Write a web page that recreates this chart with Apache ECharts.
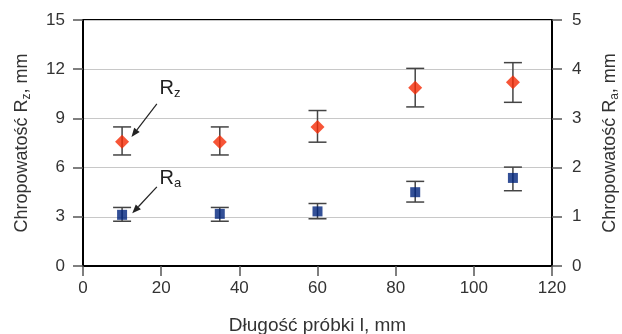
<!DOCTYPE html>
<html>
<head>
<meta charset="utf-8">
<script src="https://cdn.jsdelivr.net/npm/echarts@6/dist/echarts.min.js"></script>
<style>
  html, body { margin: 0; padding: 0; background: #fff; }
  #chart { width: 622px; height: 334px; }
</style>
</head>
<body>
<div id="chart"></div>
<script>
// długość próbki, mm
const lengths = [10, 35, 60, 85, 110];
// Rz (lewa oś)
const rzMean = [7.58, 7.56, 8.48, 10.87, 11.2];
const rzLow = [6.77, 6.77, 7.55, 9.7, 9.98];
const rzHigh = [8.48, 8.48, 9.48, 12.05, 12.4];
// Ra (prawa oś)
const raMean = [1.04, 1.06, 1.11, 1.5, 1.79];
const raLow = [0.91, 0.91, 0.96, 1.3, 1.53];
const raHigh = [1.19, 1.19, 1.27, 1.72, 2.01];

const FONT = "'Liberation Sans', Arial, sans-serif";
const TXT = "#333";

const el = document.getElementById("chart");
const chart = echarts.init(el, null, { renderer: "canvas" });

function errorBars(low, high) {
  return lengths.map((x, i) => [x, low[i], high[i]]);
}

function renderErr(params, api) {
  const x = api.value(0);
  const lo = api.coord([x, api.value(1)]);
  const hi = api.coord([x, api.value(2)]);
  const w = 9;
  const style = { stroke: "#444", lineWidth: 1.5 };
  return {
    type: "group",
    children: [
      { type: "line", shape: { x1: hi[0], y1: hi[1], x2: lo[0], y2: lo[1] }, style },
      { type: "line", shape: { x1: hi[0] - w, y1: hi[1], x2: hi[0] + w, y2: hi[1] }, style },
      { type: "line", shape: { x1: lo[0] - w, y1: lo[1], x2: lo[0] + w, y2: lo[1] }, style },
    ],
  };
}

const axisLine = { show: true, lineStyle: { color: "#000", width: 2 } };
const axisTick = { show: true, length: 10, lineStyle: { color: "#555", width: 1.5 } };
const label = { color: TXT, fontSize: 17, fontFamily: FONT };
const nameRich = {
  a: { fontSize: 18, fontFamily: FONT, color: TXT },
  s: { fontSize: 12, fontFamily: FONT, color: TXT, verticalAlign: "bottom", padding: [9, 0, 0, 0] },
};

chart.setOption({
  animation: false,
  grid: {
    left: 83, right: 70, top: 20, bottom: 68,
    outerBoundsMode: "none",
    show: true, borderColor: "#000", borderWidth: 2,
  },
  xAxis: {
    type: "value",
    min: 0,
    max: 120,
    interval: 20,
    axisLine,
    axisTick,
    axisLabel: { ...label, margin: 14 },
    splitLine: { show: false },
    name: "Długość próbki l, mm",
    nameLocation: "middle",
    nameGap: 50,
    nameTextStyle: { fontSize: 19, fontFamily: FONT, color: TXT },
  },
  yAxis: [
    {
      type: "value",
      min: 0,
      max: 15,
      interval: 3,
      axisLine,
      axisTick,
      axisLabel: { ...label, margin: 18 },
      splitLine: { show: true, lineStyle: { color: "#c8c8c8", width: 1.2 } },
      name: "{a|Chropowatość R}{s|z}{a|, mm}",
      nameLocation: "middle",
      nameRotate: 90,
      nameGap: 50,
      nameTextStyle: { rich: nameRich },
    },
    {
      type: "value",
      min: 0,
      max: 5,
      interval: 1,
      position: "right",
      axisLine,
      axisTick,
      axisLabel: { ...label, margin: 20 },
      splitLine: { show: false },
      name: "{a|Chropowatość R}{s|a}{a|, mm}",
      nameLocation: "middle",
      nameRotate: 90,
      nameGap: 48,
      nameTextStyle: { rich: nameRich },
    },
  ],
  series: [
    {
      type: "custom",
      yAxisIndex: 0,
      renderItem: renderErr,
      data: errorBars(rzLow, rzHigh),
      z: 1,
      silent: true,
    },
    {
      type: "custom",
      yAxisIndex: 1,
      renderItem: renderErr,
      data: errorBars(raLow, raHigh),
      z: 1,
      silent: true,
    },
    {
      name: "Rz",
      type: "scatter",
      yAxisIndex: 0,
      symbol: "diamond",
      symbolSize: 14,
      itemStyle: { color: "#f52a05" },
      data: lengths.map((x, i) => [x, rzMean[i]]),
      z: 3,
    },
    {
      name: "Ra",
      type: "scatter",
      yAxisIndex: 1,
      symbol: "rect",
      symbolSize: 10,
      itemStyle: { color: "#00247d" },
      data: lengths.map((x, i) => [x, raMean[i]]),
      z: 3,
    },
  ],
});

// podpisy ze strzałkami (współrzędne w jednostkach osi)
const notes = [
  { axis: 0, sub: "z", from: [18.9, 9.88], to: [12.4, 7.86], text: [19.6, 10.15] },
  { axis: 1, sub: "a", from: [18.9, 1.61], to: [12.6, 1.07], text: [19.6, 1.54] },
];

function arrowGraphics() {
  const out = [];
  notes.forEach((n) => {
    const p1 = chart.convertToPixel({ xAxisIndex: 0, yAxisIndex: n.axis }, n.from);
    const p2 = chart.convertToPixel({ xAxisIndex: 0, yAxisIndex: n.axis }, n.to);
    const pt = chart.convertToPixel({ xAxisIndex: 0, yAxisIndex: n.axis }, n.text);
    const ang = Math.atan2(p2[1] - p1[1], p2[0] - p1[0]);
    const L = 9, W = 3.5;
    const bx = p2[0] - L * Math.cos(ang), by = p2[1] - L * Math.sin(ang);
    const nx = -Math.sin(ang) * W, ny = Math.cos(ang) * W;
    out.push({
      type: "line",
      shape: { x1: p1[0], y1: p1[1], x2: bx, y2: by },
      style: { stroke: "#222", lineWidth: 1.2 },
      z: 10,
    });
    out.push({
      type: "polygon",
      shape: { points: [[p2[0], p2[1]], [bx + nx, by + ny], [bx - nx, by - ny]] },
      style: { fill: "#222" },
      z: 10,
    });
    out.push({
      type: "text",
      x: pt[0],
      y: pt[1],
      style: {
        text: "{r|R}{s|" + n.sub + "}",
        rich: {
          r: { fontSize: 20, fontFamily: FONT, fill: "#222" },
          s: { fontSize: 13, fontFamily: FONT, fill: "#222", padding: [10, 0, 0, 0] },
        },
        verticalAlign: "bottom",
        align: "left",
      },
      z: 10,
    });
  });
  return out;
}

chart.setOption({ graphic: arrowGraphics() });
</script>
</body>
</html>
